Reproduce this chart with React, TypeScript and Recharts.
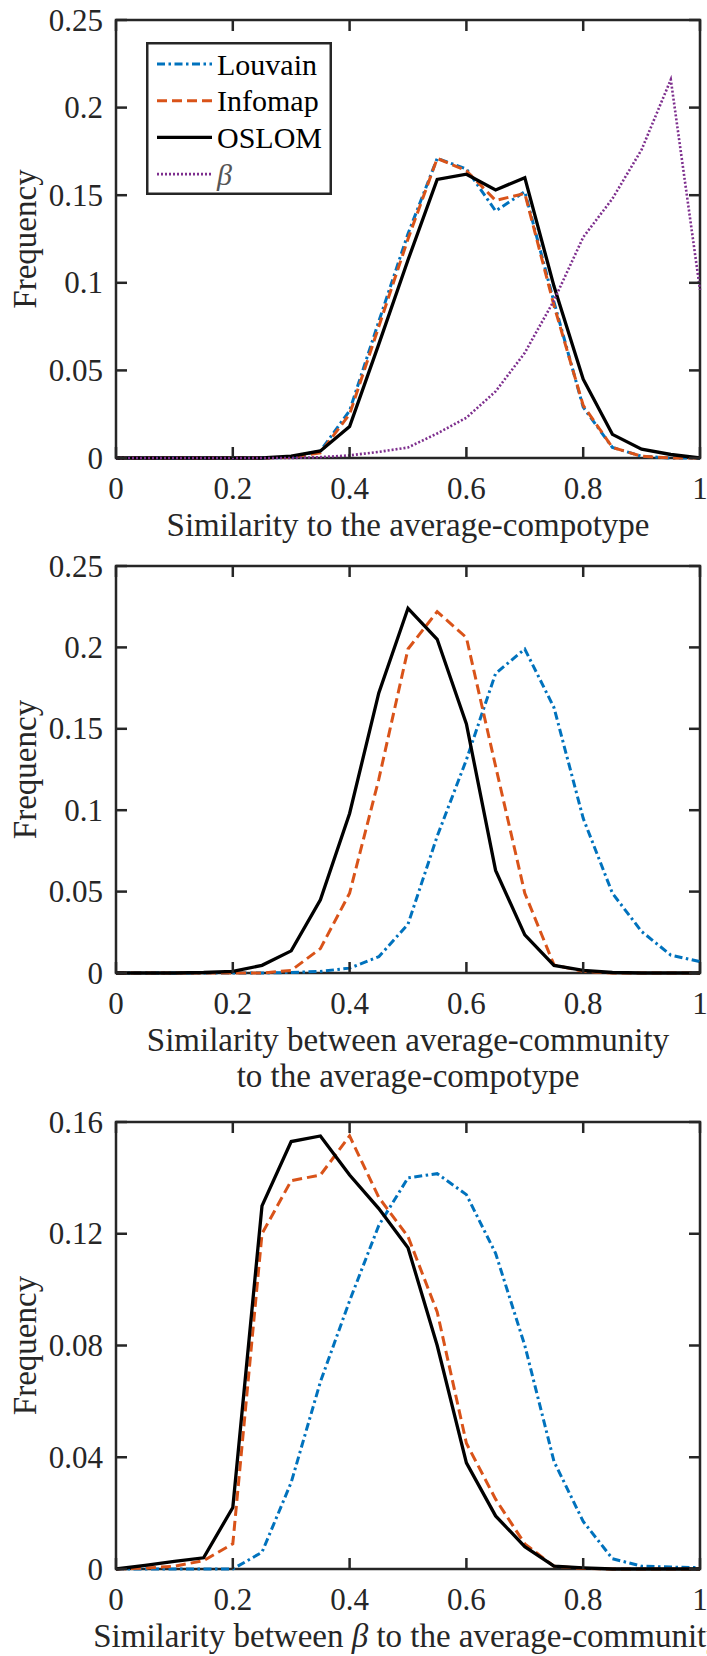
import { Label, Legend, Line, LineChart, ReferenceArea, XAxis, YAxis } from 'recharts';

// histogram bin centres shared by all three panels
const BINS = [0, 0.05, 0.1, 0.15, 0.2, 0.25, 0.3, 0.35, 0.4, 0.45, 0.5, 0.55, 0.6, 0.65, 0.7, 0.75, 0.8, 0.85, 0.9, 0.95, 1];
const X_TICKS = [0, 0.2, 0.4, 0.6, 0.8, 1];

// panel 1: similarity to the average-compotype
const louvainCompotype = [0, 0, 0, 0, 0, 0, 0.0005, 0.004, 0.027, 0.078, 0.128, 0.171, 0.165, 0.141, 0.152, 0.089, 0.029, 0.006, 0.001, 0, 0];
const infomapCompotype = [0, 0, 0, 0, 0, 0, 0.0005, 0.003, 0.025, 0.075, 0.125, 0.171, 0.164, 0.147, 0.151, 0.087, 0.03, 0.006, 0.001, 0, 0];
const oslomCompotype = [0, 0, 0, 0, 0, 0, 0.001, 0.004, 0.018, 0.065, 0.113, 0.159, 0.162, 0.153, 0.16, 0.098, 0.045, 0.0135, 0.005, 0.002, 0];
const betaCompotype = [0, 0, 0, 0, 0, 0, 0, 0.0005, 0.0015, 0.0035, 0.006, 0.014, 0.023, 0.038, 0.06, 0.09, 0.126, 0.148, 0.176, 0.216, 0.096];
const Y_TICKS_A = [0, 0.05, 0.1, 0.15, 0.2, 0.25];

// panel 2: average-community vs average-compotype
const louvainCommunity = [0, 0, 0, 0, 0, 0, 0.0003, 0.001, 0.003, 0.01, 0.03, 0.084, 0.131, 0.184, 0.199, 0.163, 0.095, 0.049, 0.0255, 0.011, 0.007];
const infomapCommunity = [0, 0, 0, 0, 0, 0, 0.0016, 0.015, 0.049, 0.119, 0.199, 0.222, 0.206, 0.127, 0.049, 0.005, 0.001, 0, 0, 0, 0];
const oslomCommunity = [0, 0, 0, 0.0003, 0.001, 0.0047, 0.0136, 0.045, 0.098, 0.172, 0.224, 0.205, 0.153, 0.063, 0.0234, 0.0047, 0.0016, 0.0003, 0, 0, 0];

// panel 3: beta vs average-community
const louvainBeta = [0, 0, 0, 0, 0, 0.006, 0.031, 0.067, 0.096, 0.123, 0.14, 0.1415, 0.134, 0.113, 0.08, 0.0385, 0.017, 0.0037, 0.001, 0.0007, 0.0005];
const infomapBeta = [0, 0.0003, 0.001, 0.003, 0.009, 0.12, 0.139, 0.141, 0.155, 0.133, 0.119, 0.092, 0.045, 0.025, 0.009, 0.001, 0.0002, 0, 0, 0, 0];
const oslomBeta = [0, 0.0013, 0.0027, 0.004, 0.022, 0.13, 0.153, 0.155, 0.141, 0.129, 0.115, 0.08, 0.038, 0.019, 0.008, 0.001, 0.0004, 0, 0, 0, 0];
const Y_TICKS_C = [0, 0.04, 0.08, 0.12, 0.16];

const LEGEND_ORDER = ['Louvain', 'Infomap', 'OSLOM', 'β'];

const STYLE: Record<string, { color: string; width: number; dash?: string }> = {
  Louvain: { color: '#0072BD', width: 3, dash: '8 3.5 2.5 3.5' },
  Infomap: { color: '#D95319', width: 3, dash: '10 5' },
  OSLOM: { color: '#000000', width: 3.3 },
  'β': { color: '#7E2F8E', width: 2.6, dash: '2 2' },
};

const FONT = "'Liberation Serif', 'DejaVu Serif', serif";
const INK = '#262626';
const W = 707;
const PLOT_LEFT = 116;
const PLOT_RIGHT = 700;
const TICK_LEN = 11;
const TICK_FONT = 31;
const TITLE_FONT = 33;
const LEGEND_FONT = 30;

const textStyle = (size: number) => ({ fontFamily: FONT, fontSize: size });

type Series = { name: string; values: number[] };

function LegendBox({ payload }: any) {
  const names = (payload || []).map((e: any) => e.value);
  const rows = LEGEND_ORDER.filter((n) => names.includes(n));
  return (
    <svg width={186} height={153} style={{ display: 'block', background: '#fff' }}>
      <rect x={1.25} y={1.25} width={183.5} height={150.5} fill="#fff" stroke={INK} strokeWidth={2.5} />
      {rows.map((name, i) => {
        const st = STYLE[name];
        const cy = 22 + i * 36.7;
        return (
          <g key={name}>
            <line x1={11} x2={66} y1={cy} y2={cy} stroke={st.color} strokeWidth={st.width} strokeDasharray={st.dash} />
            <text
              x={71}
              y={cy}
              dominantBaseline="central"
              style={{ ...textStyle(LEGEND_FONT), fontStyle: name === 'β' ? 'italic' : 'normal' }}
              fill={name === 'β' ? '#555' : '#000'}
            >
              {name}
            </text>
          </g>
        );
      })}
    </svg>
  );
}

interface PanelProps {
  top: number;
  height: number;
  plotTop: number;
  plotBottom: number;
  yMax: number;
  yTicks: number[];
  series: Series[];
  xLabel: string[];
  legend?: boolean;
}

function Panel({ top, height, plotTop, plotBottom, yMax, yTicks, series, xLabel, legend }: PanelProps) {
  const pt = plotTop - top;
  const pb = plotBottom - top;
  const data = BINS.map((x, i) => {
    const row: Record<string, number> = { x };
    series.forEach((s) => {
      row[s.name] = s.values[i];
    });
    return row;
  });

  // ticks point inward on all four sides, like a boxed axes
  const xTick = ({ x, payload }: any) => (
    <g>
      <line x1={x} x2={x} y1={pb} y2={pb - TICK_LEN} stroke={INK} strokeWidth={2.5} />
      <line x1={x} x2={x} y1={pt} y2={pt + TICK_LEN} stroke={INK} strokeWidth={2.5} />
      <text x={x} y={pb + 30} textAnchor="middle" dominantBaseline="central" style={textStyle(TICK_FONT)} fill={INK}>
        {String(payload.value)}
      </text>
    </g>
  );
  const yTick = ({ y, payload }: any) => (
    <g>
      <line x1={PLOT_LEFT} x2={PLOT_LEFT + TICK_LEN} y1={y} y2={y} stroke={INK} strokeWidth={2.5} />
      <line x1={PLOT_RIGHT} x2={PLOT_RIGHT - TICK_LEN} y1={y} y2={y} stroke={INK} strokeWidth={2.5} />
      <text x={103} y={y} textAnchor="end" dominantBaseline="central" style={textStyle(TICK_FONT)} fill={INK}>
        {String(payload.value)}
      </text>
    </g>
  );

  return (
    <div style={{ position: 'absolute', left: 0, top, width: W, height }}>
      <LineChart
        width={W}
        height={height}
        data={data}
        margin={{ top: pt, right: W - PLOT_RIGHT, bottom: height - pb - 30, left: PLOT_LEFT - 60 }}
      >
        <XAxis
          dataKey="x"
          type="number"
          domain={[0, 1]}
          ticks={X_TICKS}
          interval={0}
          height={30}
          axisLine={false}
          tickLine={false}
          tick={xTick}
        >
          <Label
            content={() => (
              <g>
                {xLabel.map((line, i) => (
                  <text
                    key={line}
                    x={(PLOT_LEFT + PLOT_RIGHT) / 2}
                    y={pb + 67 + i * 36}
                    textAnchor="middle"
                    dominantBaseline="central"
                    style={textStyle(TITLE_FONT)}
                    fill={INK}
                  >
                    {line.includes('β') ? (
                      <>
                        {line.split('β')[0]}
                        <tspan fontStyle="italic">β</tspan>
                        {line.split('β')[1]}
                      </>
                    ) : (
                      line
                    )}
                  </text>
                ))}
              </g>
            )}
          />
        </XAxis>
        <YAxis
          type="number"
          domain={[0, yMax]}
          ticks={yTicks}
          interval={0}
          width={60}
          axisLine={false}
          tickLine={false}
          tick={yTick}
        >
          <Label
            content={() => (
              <text
                x={25}
                y={(pt + pb) / 2}
                transform={`rotate(-90 25 ${(pt + pb) / 2})`}
                textAnchor="middle"
                dominantBaseline="central"
                style={textStyle(TITLE_FONT)}
                fill={INK}
              >
                Frequency
              </text>
            )}
          />
        </YAxis>
        <ReferenceArea x1={0} x2={1} y1={0} y2={yMax} fill="none" stroke={INK} strokeWidth={2.5} />
        {series.map((s) => (
          <Line
            key={s.name}
            dataKey={s.name}
            name={s.name}
            type="linear"
            stroke={STYLE[s.name].color}
            strokeWidth={STYLE[s.name].width}
            strokeDasharray={STYLE[s.name].dash}
            dot={false}
            activeDot={false}
            isAnimationActive={false}
          />
        ))}
        {legend && (
          <Legend
            layout="vertical"
            align="center"
            verticalAlign="middle"
            content={<LegendBox />}
            wrapperStyle={{ left: 146, top: 42, width: 186, height: 153 }}
          />
        )}
      </LineChart>
    </div>
  );
}

export default function App() {
  return (
    <div style={{ position: 'absolute', left: 0, top: 0, width: W, height: 1656, overflow: 'hidden', background: '#fff' }}>
      <Panel
        top={1095}
        height={561}
        plotTop={1122}
        plotBottom={1569}
        yMax={0.16}
        yTicks={Y_TICKS_C}
        series={[
          { name: 'Louvain', values: louvainBeta },
          { name: 'Infomap', values: infomapBeta },
          { name: 'OSLOM', values: oslomBeta },
        ]}
        xLabel={['Similarity between β to the average-community']}
      />
      <Panel
        top={520}
        height={580}
        plotTop={566}
        plotBottom={973}
        yMax={0.25}
        yTicks={Y_TICKS_A}
        series={[
          { name: 'Louvain', values: louvainCommunity },
          { name: 'Infomap', values: infomapCommunity },
          { name: 'OSLOM', values: oslomCommunity },
        ]}
        xLabel={['Similarity between average-community', 'to the average-compotype']}
      />
      <Panel
        top={0}
        height={560}
        plotTop={20}
        plotBottom={458}
        yMax={0.25}
        yTicks={Y_TICKS_A}
        legend
        series={[
          { name: 'Louvain', values: louvainCompotype },
          { name: 'Infomap', values: infomapCompotype },
          { name: 'OSLOM', values: oslomCompotype },
          { name: 'β', values: betaCompotype },
        ]}
        xLabel={['Similarity to the average-compotype']}
      />
    </div>
  );
}
